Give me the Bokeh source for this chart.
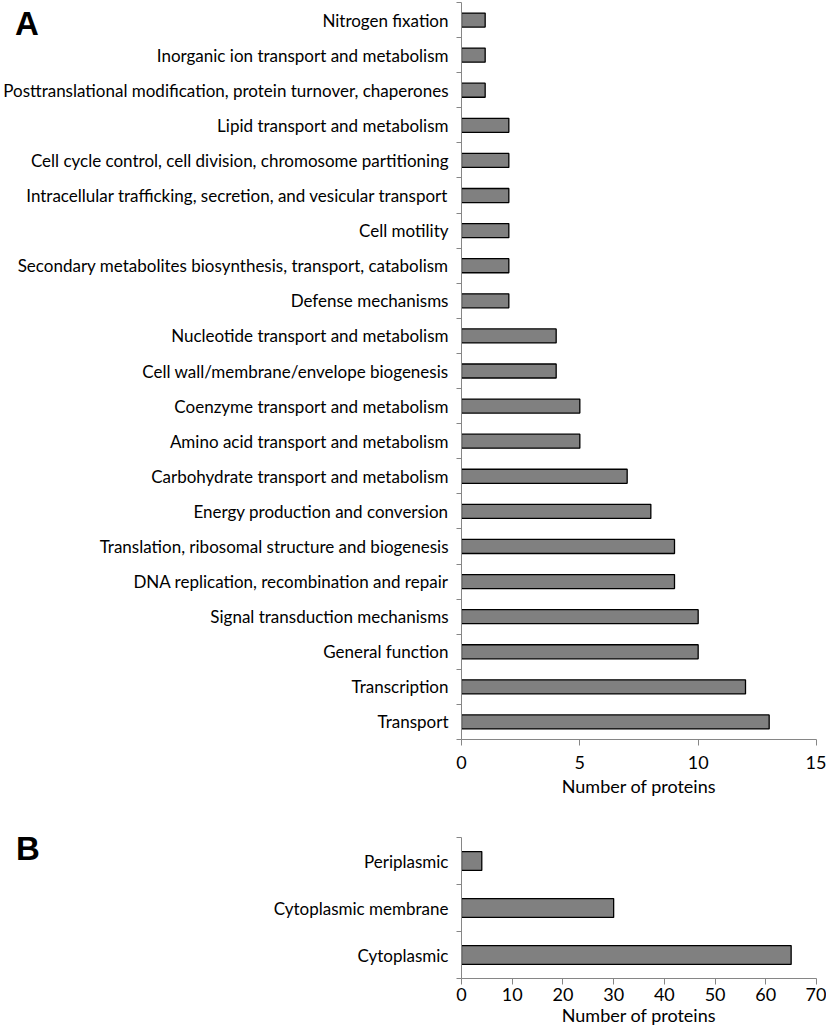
from bokeh.plotting import figure
from bokeh.models import Range1d, FixedTicker, Div
from bokeh.layouts import column
from bokeh.embed import file_html
from bokeh.resources import INLINE

# ---- data ----
cog_categories = [
    "Nitrogen fixation",
    "Inorganic ion transport and metabolism",
    "Posttranslational modification, protein turnover, chaperones",
    "Lipid transport and metabolism",
    "Cell cycle control, cell division, chromosome partitioning",
    "Intracellular trafficking, secretion, and vesicular transport",
    "Cell motility",
    "Secondary metabolites biosynthesis, transport, catabolism",
    "Defense mechanisms",
    "Nucleotide transport and metabolism",
    "Cell wall/membrane/envelope biogenesis",
    "Coenzyme transport and metabolism",
    "Amino acid transport and metabolism",
    "Carbohydrate transport and metabolism",
    "Energy production and conversion",
    "Translation, ribosomal structure and biogenesis",
    "DNA replication, recombination and repair",
    "Signal transduction mechanisms",
    "General function",
    "Transcription",
    "Transport",
]
cog_counts = [1, 1, 1, 2, 2, 2, 2, 2, 2, 4, 4, 5, 5, 7, 8, 9, 9, 10, 10, 12, 13]
a_xticks = [0, 5, 10, 15]

loc_categories = ["Periplasmic", "Cytoplasmic membrane", "Cytoplasmic"]
loc_counts = [4, 30, 65]
b_xticks = [0, 10, 20, 30, 40, 50, 60, 70]

FONT = "Lato"
AXIS_COLOR = "#868686"


def make_panel(cats, vals, xticks, height, border_top, border_bottom,
               cat_size, tick_size, label_size, tick_standoff, label_standoff):
    n = len(cats)
    pos = list(range(n))
    p = figure(width=826, height=height, output_backend="svg", toolbar_location=None,
               x_range=Range1d(xticks[0], xticks[-1]),
               y_range=Range1d(n - 0.5, -0.5),
               min_border_left=460, min_border_right=10,
               min_border_top=border_top, min_border_bottom=border_bottom)
    p.hbar(y=pos, left=0, right=vals, height=0.4,
           fill_color="#808080", line_color="black", line_width=1.3)
    p.xgrid.visible = False
    p.ygrid.visible = False
    p.outline_line_color = None
    p.background_fill_color = "white"
    p.border_fill_color = None

    ya = p.yaxis[0]
    ya.ticker = FixedTicker(ticks=pos, minor_ticks=[i - 0.5 for i in range(n + 1)])
    ya.major_label_overrides = {i: c for i, c in enumerate(cats)}
    ya.major_tick_out = 0
    ya.major_tick_in = 0
    ya.minor_tick_out = 5
    ya.minor_tick_in = 0
    ya.minor_tick_line_color = AXIS_COLOR
    ya.axis_line_color = AXIS_COLOR
    ya.major_label_standoff = 8
    ya.major_label_text_font = FONT
    ya.major_label_text_font_size = f"{cat_size}px"
    ya.major_label_text_color = "black"

    xa = p.xaxis[0]
    xa.ticker = FixedTicker(ticks=xticks, minor_ticks=[])
    xa.major_tick_out = 6
    xa.major_tick_in = 0
    xa.major_tick_line_color = AXIS_COLOR
    xa.axis_line_color = AXIS_COLOR
    xa.major_label_standoff = tick_standoff
    xa.major_label_text_font = FONT
    xa.major_label_text_font_size = f"{tick_size}px"
    xa.major_label_text_color = "black"
    xa.axis_label = "Number of proteins"
    xa.axis_label_text_font = FONT
    xa.axis_label_text_font_style = "normal"
    xa.axis_label_text_font_size = f"{label_size}px"
    xa.axis_label_text_color = "black"
    xa.axis_label_standoff = label_standoff
    return p


def panel_letter(letter, top, left):
    html = (f'<span style="font-family:\'Liberation Sans\';font-weight:bold;'
            f'font-size:33px;color:black;">{letter}</span>')
    return Div(text=html, width=40, height=40, margin=(top, 0, -(top + 40), left))


pa = make_panel(cog_categories, cog_counts, a_xticks, height=800,
                border_top=2, border_bottom=61,
                cat_size=17, tick_size=18, label_size=18,
                tick_standoff=10, label_standoff=3)
pb = make_panel(loc_categories, loc_counts, b_xticks, height=232,
                border_top=37, border_bottom=54,
                cat_size=17, tick_size=18, label_size=18,
                tick_standoff=3, label_standoff=0)

layout = column(panel_letter("A", 0, 15), pa, panel_letter("B", 25, 16), pb, spacing=0)
open("out.html", "w").write(file_html(layout, INLINE))
